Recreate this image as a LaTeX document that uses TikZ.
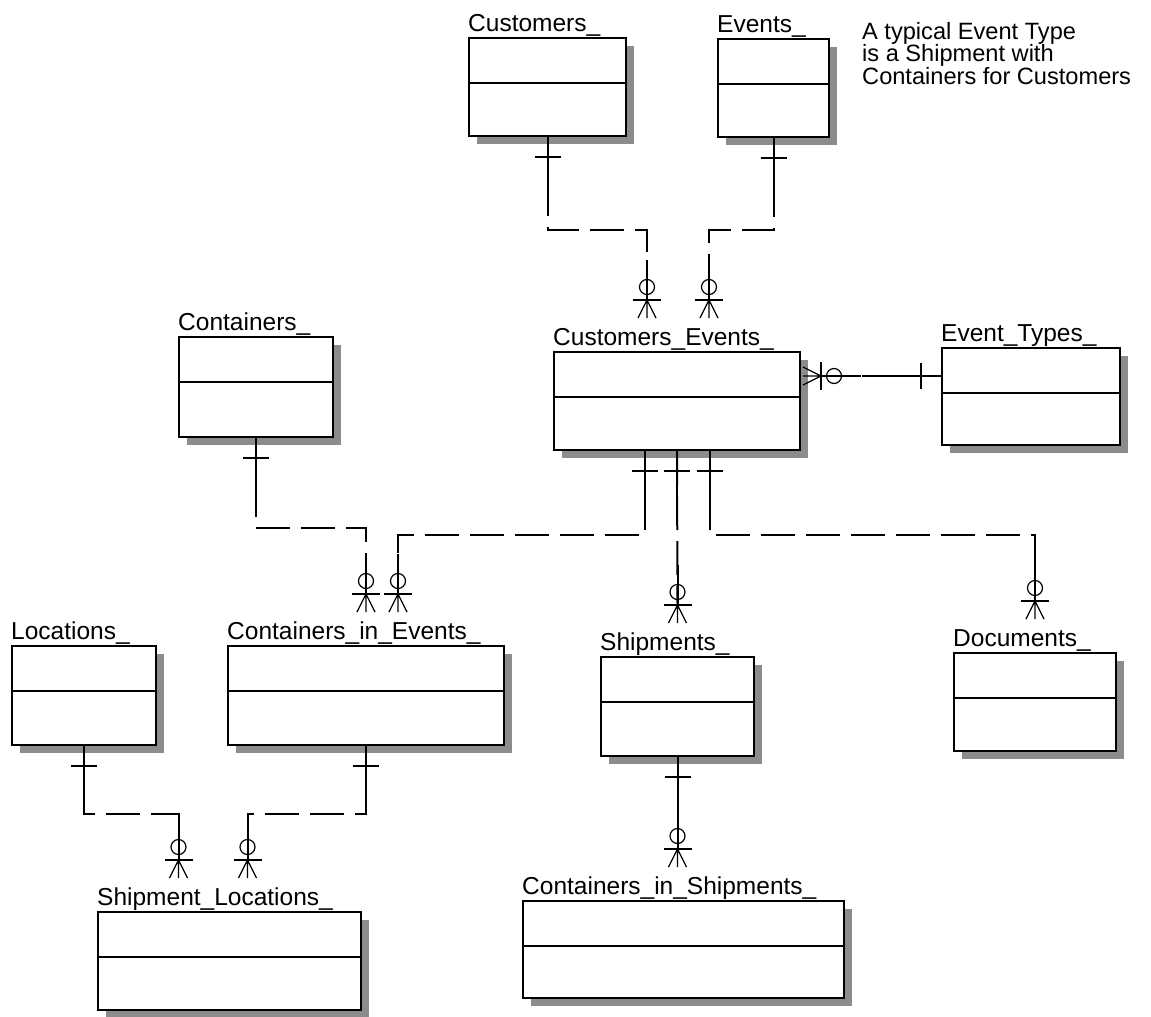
\documentclass[tikz,border=0pt]{standalone}
\usepackage{fontspec}
\setmainfont{Liberation Sans}
\usetikzlibrary{shadows}

\begin{document}
\begin{tikzpicture}[x=1pt,y=-1pt,line cap=butt,line join=miter,
    entity/.style={draw,fill=white,line width=2pt,inner sep=0pt,anchor=north west,
      minimum height=98pt,
      drop shadow={shadow xshift=8pt,shadow yshift=-8pt,fill=black!45,opacity=1}},
    lbl/.style={anchor=base west,inner sep=0pt,font=\fontsize{24.5}{23}\selectfont},
    rel/.style={line width=2pt,dash pattern=on 34pt off 11pt},
    pics/onebar/.style={code={
      \draw[line width=2pt] (0,0) -- (0,55);
      \draw[line width=2pt] (-13,20) -- (13,20);}},
    pics/crow/.style={code={
      \draw[line width=2pt] (0,0) -- (0,-40);
      \draw[line width=1.2pt] (0,-13) circle (7.5);
      \draw[line width=2pt] (-14,0) -- (14,0);
      \draw[line width=1.3pt] (0,0) -- (-9,18) (0,0) -- (0,18) (0,0) -- (9,18);}}]
  \useasboundingbox (0,0) rectangle (1151,1017);

  \node[entity,minimum width=157pt] (customers) at (468,37) {};
  \node[entity,minimum width=111pt] (events) at (717,38) {};
  \node[entity,minimum width=246pt] (ce) at (553,351) {};
  \node[entity,minimum width=178pt,minimum height=97pt] (et) at (941,347) {};
  \node[entity,minimum width=154pt,minimum height=100pt] (containers) at (178,336) {};
  \node[entity,minimum width=144pt,minimum height=99pt] (locations) at (11,645) {};
  \node[entity,minimum width=276pt,minimum height=99pt] (cie) at (227,645) {};
  \node[entity,minimum width=153pt,minimum height=99pt] (shipments) at (600,656) {};
  \node[entity,minimum width=162pt] (documents) at (953,652) {};
  \node[entity,minimum width=263pt] (sl) at (97,911) {};
  \node[entity,minimum width=321pt,minimum height=97pt] (cis) at (522,900) {};

  \foreach \n in {customers,events,ce,et,containers,locations,cie,shipments,documents,sl,cis}
    \draw[line width=2pt] ([yshift=-46pt]\n.north west) -- ([yshift=-46pt]\n.north east);

  \node[lbl] (customers-lbl) at ([yshift=6pt]customers.north west) {Customers\_};
  \node[lbl] (events-lbl) at ([yshift=6pt]events.north west) {Events\_};
  \node[lbl] (ce-lbl) at ([yshift=6pt]ce.north west) {Customers\_Events\_};
  \node[lbl] (et-lbl) at ([yshift=6pt]et.north west) {Event\_Types\_};
  \node[lbl] (containers-lbl) at ([yshift=6pt]containers.north west) {Containers\_};
  \node[lbl] (locations-lbl) at ([yshift=6pt]locations.north west) {Locations\_};
  \node[lbl] (cie-lbl) at ([yshift=6pt]cie.north west) {Containers\_in\_Events\_};
  \node[lbl] (shipments-lbl) at ([yshift=6pt]shipments.north west) {Shipments\_};
  \node[lbl] (documents-lbl) at ([yshift=6pt]documents.north west) {Documents\_};
  \node[lbl] (sl-lbl) at ([yshift=6pt]sl.north west) {Shipment\_Locations\_};
  \node[lbl] (cis-lbl) at ([yshift=6pt]cis.north west) {Containers\_in\_Shipments\_};

  \node[lbl,anchor=north west,align=left,font=\fontsize{23.6}{22.5}\selectfont] (note) at (862,22)
    {A typical Event Type\\is a Shipment with\\Containers for Customers};

  \coordinate (ce-in1) at ([xshift=-30pt,yshift=51pt]ce.north);
  \coordinate (ce-in2) at ([xshift=32pt,yshift=51pt]ce.north);
  \coordinate (ce-side) at ([xshift=20pt,yshift=-25pt]ce.north east);
  \coordinate (et-in) at (et.west |- ce-side);
  \coordinate (ce-out1) at ([xshift=-32pt]ce.south);
  \coordinate (ce-out3) at ([xshift=33pt]ce.south);
  \coordinate (cie-in1) at ([yshift=51pt]cie.north);
  \coordinate (cie-in2) at ([xshift=32pt,yshift=51pt]cie.north);
  \coordinate (ship-in) at ([yshift=51pt]shipments.north);
  \coordinate (docs-in) at ([yshift=51pt]documents.north);
  \coordinate (cis-in) at ([xshift=-6pt,yshift=51pt]cis.north);
  \coordinate (sl-in1) at ([xshift=-51pt,yshift=51pt]sl.north);
  \coordinate (sl-in2) at ([xshift=18pt,yshift=51pt]sl.north);

  \draw[rel] (customers.south) -- ++(0,93) -| (ce-in1);
  \draw[rel] (events.south) -- ++(0,92) -| (ce-in2);
  \draw[rel] (et-in) -- (ce-side);
  \draw[rel] (containers.south) -- ++(0,90) -| (cie-in1);
  \draw[rel] (ce-out1) -- ++(0,84) -| (cie-in2);
  \draw[rel] (ce.south) -- (ship-in);
  \draw[rel] (ce-out3) -- ++(0,84) -| (docs-in);
  \draw[rel] (shipments.south) -- (cis-in);
  \draw[rel] (locations.south) -- ++(0,68) -| (sl-in1);
  \draw[rel] (cie.south) -- ++(0,68) -| (sl-in2);

  \pic at (customers.south) {onebar};
  \pic at (events.south) {onebar};
  \pic[rotate=-90] at (et-in) {onebar};
  \pic at (containers.south) {onebar};
  \pic at (ce-out1) {onebar};
  \pic at (ce.south) {onebar};
  \pic at (ce-out3) {onebar};
  \pic at (shipments.south) {onebar};
  \pic at (locations.south) {onebar};
  \pic at (cie.south) {onebar};

  \pic at (ce-in1) {crow};
  \pic at (ce-in2) {crow};
  \pic[rotate=-90] at (ce-side) {crow};
  \pic at (cie-in1) {crow};
  \pic at (cie-in2) {crow};
  \pic at (ship-in) {crow};
  \pic at (docs-in) {crow};
  \pic at (cis-in) {crow};
  \pic at (sl-in1) {crow};
  \pic at (sl-in2) {crow};
\end{tikzpicture}
\end{document}
